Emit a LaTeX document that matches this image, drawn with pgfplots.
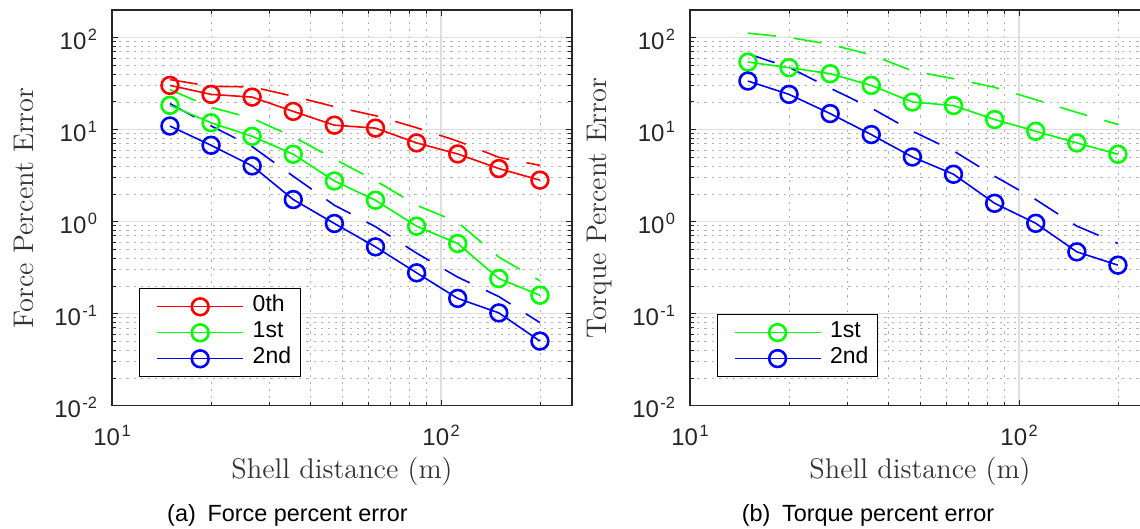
\documentclass[border=0pt]{standalone}
\usepackage{fontspec}
\setsansfont{Liberation Sans}
\usepackage{pgfplots}
\usepackage{pgfplotstable}
\pgfplotsset{compat=1.18}
\definecolor{axgray}{gray}{0.15}
\definecolor{majgrid}{gray}{0.87}
\definecolor{mingrid}{gray}{0.70}
\newcommand{\tkl}[1]{10\hspace{0.06em}\raisebox{4.5pt}{\fontsize{8.2}{9}\selectfont #1}}

\pgfplotstableread{
x r g b rd gd bd
15      30.3  18.4  10.96  35.0  27.2  19.2
20      24.2  11.9  6.77   29.6  17.5  11.0
26.667  22.6  8.47  4.04   29.2  13.3  6.55
35.556  15.8  5.41  1.74   23.1  8.37  3.12
47.407  11.2  2.77  0.956  17.8  4.80  1.51
63.210  10.4  1.71  0.533  14.2  2.79  0.883
84.280  7.18  0.893 0.278  10.5  1.51  0.455
112.37  5.45  0.579 0.1466 7.52  0.988 0.2496
149.83  3.78  0.241 0.102  5.01  0.412 0.1535
199.77  2.83  0.159 0.0504 4.10  0.228 0.080
}\forcetab

\pgfplotstableread{
x g b gd bd
15      54.3  33.8  112    66.7
20      47.2  24.2  100.7  47.6
26.667  40.6  14.97 84.6   28.3
35.556  30.3  8.85  65.0   17.2
47.407  20.0  5.05  43.6   9.64
63.210  18.3  3.28  35.8   5.89
84.280  12.9  1.585 28.9   3.12
112.37  9.62  0.961 21.2   1.74
149.83  7.18  0.47  15.4   0.895
199.77  5.41  0.337 11.4   0.58
}\torquetab

\pgfplotsset{
  every axis/.append style={
  width=230pt, height=197.85pt, scale only axis,
  xmin=10, xmax=250, ymin=0.01, ymax=200,
  xtick={10,100}, xticklabels={\tkl{1},\tkl{2}},
  ytick={0.01,0.1,1,10,100}, yticklabels={\tkl{-2},\tkl{-1},\tkl{0},\tkl{1},\tkl{2}},
  minor xtick={20,30,40,50,60,70,80,90,200},
  minor ytick={0.02,0.03,0.04,0.05,0.06,0.07,0.08,0.09,0.2,0.3,0.4,0.5,0.6,0.7,0.8,0.9,2,3,4,5,6,7,8,9,20,30,40,50,60,70,80,90},
  grid=both,
  major grid style={majgrid, line width=0.6pt},
  minor grid style={mingrid, line width=0.45pt, dash pattern=on 1.1pt off 2.5pt},
  axis line style={axgray, line width=0.55pt},
  tick style={axgray, line width=0.5pt},
  major tick length=3pt, minor tick length=2pt, tick align=inside,
  ticklabel style={font=\sffamily\fontsize{12}{14}\selectfont, text=axgray},
  xticklabel style={anchor=base, yshift=-20pt, inner sep=0pt},
  yticklabel style={anchor=base east, yshift=-5.8pt, xshift=-7.3pt, inner sep=0pt},
  xlabel style={at={(axis description cs:0.5,-0.1835)}, anchor=base, font=\fontsize{14.2}{17}\selectfont, text=black!80},
  ylabel style={anchor=base, font=\fontsize{14.2}{17}\selectfont, text=black!80},
  legend style={anchor=south west, draw=black, line width=0.5pt, fill=white,
    font=\sffamily\fontsize{11.5}{13}\selectfont, inner xsep=4.5pt, inner ysep=2.5pt, row sep=0pt,
    column sep=4.5pt, nodes={inner sep=0pt, text height=9pt, text depth=4pt}},
  legend cell align=left,
  },
  legend image code/.code={\path[draw=none,fill=none] (0pt,0pt) -- (4.2pt,0pt);
    \draw[mark repeat=2,mark phase=2,#1, line width=0.55pt] plot coordinates {(4.2pt,0pt) (25.7pt,0pt) (47.2pt,0pt)};},
}

\begin{document}
\begin{tikzpicture}
\begin{loglogaxis}[at={(56pt,61.65pt)}, anchor=south west,
  xlabel={Shell distance (m)}, ylabel={Force Percent Error},
  ylabel style={at={(axis description cs:-0.1713,0.5)}},
  legend style={at={(0.0593,0.0718)}}]
\addplot[red, line width=0.8pt, dash pattern=on 14pt off 9pt, forget plot] table[x=x,y=rd] {\forcetab};
\addplot[green, line width=0.8pt, dash pattern=on 14pt off 9pt, forget plot] table[x=x,y=gd] {\forcetab};
\addplot[blue, line width=0.8pt, dash pattern=on 14pt off 9pt, forget plot] table[x=x,y=bd] {\forcetab};
\addplot[red, line width=0.8pt, mark=o, mark size=4.2pt, mark options={solid, line width=1.3pt}] table[x=x,y=r] {\forcetab};
\addplot[green, line width=0.8pt, mark=o, mark size=4.2pt, mark options={solid, line width=1.3pt}] table[x=x,y=g] {\forcetab};
\addplot[blue, line width=0.8pt, mark=o, mark size=4.2pt, mark options={solid, line width=1.3pt}] table[x=x,y=b] {\forcetab};
\legend{0th,1st,2nd}
\end{loglogaxis}
\begin{loglogaxis}[at={(345pt,61.65pt)}, anchor=south west,
  xlabel={Shell distance (m)}, ylabel={Torque Percent Error},
  ylabel style={at={(axis description cs:-0.181,0.5)}},
  legend style={at={(0.058,0.0718)}, inner ysep=2.6pt}]
\addplot[green, line width=0.8pt, dash pattern=on 14pt off 9pt, forget plot] table[x=x,y=gd] {\torquetab};
\addplot[blue, line width=0.8pt, dash pattern=on 14pt off 9pt, forget plot] table[x=x,y=bd] {\torquetab};
\addplot[green, line width=0.8pt, mark=o, mark size=4.2pt, mark options={solid, line width=1.3pt}] table[x=x,y=g] {\torquetab};
\addplot[blue, line width=0.8pt, mark=o, mark size=4.2pt, mark options={solid, line width=1.3pt}] table[x=x,y=b] {\torquetab};
\legend{1st,2nd}
\end{loglogaxis}
\node[anchor=base, font=\sffamily\fontsize{11.7}{14}\selectfont] at (143.75pt,3.65pt) {(a)\hspace{0.5em}Force percent error};
\node[anchor=base, font=\sffamily\fontsize{11.7}{14}\selectfont] at (434pt,3.65pt) {(b)\hspace{0.5em}Torque percent error};
\pgfresetboundingbox
\useasboundingbox (0,0) rectangle (570pt,264.5pt);
\end{tikzpicture}
\end{document}
